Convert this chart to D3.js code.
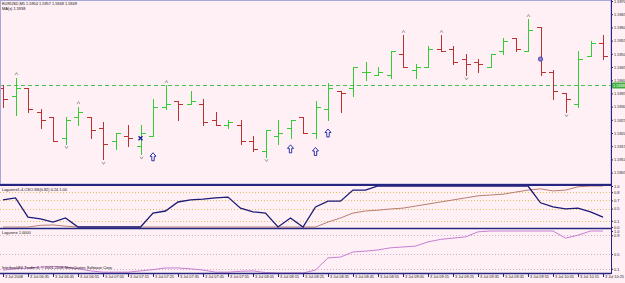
<!DOCTYPE html>
<html>
<head>
<meta charset="utf-8">
<script src="https://cdn.jsdelivr.net/npm/d3@7"></script>
<style>
  body { margin: 0; background: #fff0f5; }
  text { font-family: "Liberation Sans", Arial, sans-serif; }
</style>
</head>
<body>
<svg id="chart" width="625" height="283"></svg>
<script>
// EURUSD M5, 3 Jul 2008
const times = ["06:25","06:30","06:35","06:40","06:45","06:50","06:55","07:00","07:05","07:10",
  "07:15","07:20","07:25","07:30","07:35","07:40","07:45","07:50","07:55","08:00",
  "08:05","08:10","08:15","08:20","08:25","08:30","08:35","08:40","08:45","08:50",
  "08:55","09:00","09:05","09:10","09:15","09:20","09:25","09:30","09:35","09:40",
  "09:45","09:50","09:55","10:00","10:05","10:10","10:15","10:20","10:25"];
const open  = [1.5937,1.5934,1.5937,1.5928,1.5926,1.5918,1.5926,1.5926,1.5922,1.5917,
  1.5919,1.5915,1.5919,1.5930,1.5932,1.5931,1.5931,1.5925,1.5923,1.5923,
  1.5917,1.5913,1.5919,1.5922,1.5926,1.5920,1.5929,1.5936,1.5937,1.5943,
  1.5942,1.5942,1.5950,1.5944,1.5945,1.5952,1.5952,1.5948,1.5947,1.5945,
  1.5951,1.5956,1.5951,1.5960,1.5943,1.5935,1.5931,1.5949,1.5954];
const high  = [1.5938,1.5941,1.5937,1.5929,1.5926,1.5926,1.5930,1.5926,1.5924,1.5920,
  1.5923,1.5923,1.5933,1.5938,1.5932,1.5936,1.5933,1.5928,1.5925,1.5925,
  1.5919,1.5921,1.5925,1.5925,1.5926,1.5932,1.5939,1.5936,1.5945,1.5947,
  1.5945,1.5951,1.5957,1.5946,1.5953,1.5957,1.5953,1.5950,1.5948,1.5950,
  1.5956,1.5956,1.5963,1.5960,1.5944,1.5935,1.5951,1.5955,1.5957];
const low   = [1.5930,1.5927,1.5928,1.5922,1.5917,1.5916,1.5923,1.5918,1.5910,1.5914,
  1.5915,1.5912,1.5919,1.5929,1.5925,1.5931,1.5923,1.5923,1.5922,1.5916,
  1.5913,1.5911,1.5916,1.5918,1.5920,1.5918,1.5925,1.5928,1.5934,1.5940,
  1.5942,1.5941,1.5945,1.5941,1.5945,1.5951,1.5946,1.5942,1.5943,1.5945,
  1.5950,1.5951,1.5951,1.5942,1.5933,1.5928,1.5930,1.5949,1.5948];
const close = [1.5933,1.5937,1.5929,1.5925,1.5917,1.5925,1.5928,1.5921,1.5916,1.5920,
  1.5918,1.5920,1.5930,1.5931,1.5931,1.5932,1.5924,1.5923,1.5924,1.5917,
  1.5914,1.5921,1.5920,1.5925,1.5920,1.5930,1.5937,1.5935,1.5945,1.5943,
  1.5943,1.5951,1.5945,1.5945,1.5952,1.5951,1.5947,1.5946,1.5946,1.5950,
  1.5955,1.5952,1.5959,1.5943,1.5936,1.5933,1.5948,1.5954,1.5949];

const priceTicks = [1.5905,1.5910,1.5915,1.5920,1.5925,1.5930,1.5935,1.5940,
  1.5945,1.5950,1.5955,1.5960,1.5965,1.5970];
const tickLabels = ["3 Jul 2008","3 Jul 06:35","3 Jul 06:45","3 Jul 06:55","3 Jul 07:05",
  "3 Jul 07:15","3 Jul 07:25","3 Jul 07:35","3 Jul 07:45","3 Jul 07:55","3 Jul 08:05",
  "3 Jul 08:15","3 Jul 08:25","3 Jul 08:35","3 Jul 08:45","3 Jul 08:55","3 Jul 09:05",
  "3 Jul 09:15","3 Jul 09:25","3 Jul 09:35","3 Jul 09:45","3 Jul 09:55","3 Jul 10:05",
  "3 Jul 10:15","3 Jul 10:25"];
const hLine = 1.5938;

// markers
const fractalUp = [1,6,13,32,35,42];
const fractalDown = [5,8,11,21,37,45];
const arrowsUp = [[12,1.5911],[23,1.5914],[25,1.5913],[26,1.5920]];
const crosses = [[11,1.5918]];
const circles = [[43,1.5948]];

// indicator 1 (two lines) and indicator 2
const lagFast = [0.66,0.71,0.24,0.20,0.12,0.22,0,0,0,0,
  0,0,0.34,0.39,0.61,0.66,0.68,0.71,0.73,0.46,
  0.37,0.34,0,0.22,0,0.49,0.63,0.63,0.90,0.90,
  1,1,1,1,1,1,1,1,1,1,
  1,1,1,0.59,0.49,0.44,0.46,0.37,0.24];
const lagSlow = [0,0,0,0.04,0.05,0.02,0,0,0,0,
  0,0,0,0,0,0,0,0,0,0,
  0,0,0,0,0,0,0.12,0.22,0.34,0.39,
  0.41,0.44,0.46,0.51,0.56,0.61,0.66,0.71,0.76,0.78,
  0.80,0.85,0.90,0.93,0.88,0.90,0.98,1,1];
const laguerre = [0.07,0.10,0.12,0.14,0.15,0.14,0.10,0.05,0.02,0.02,
  0.02,0.05,0.08,0.12,0.12,0.10,0.07,0.02,0.02,0.04,
  0.05,0.01,0,0,0,0.07,0.36,0.38,0.50,0.52,
  0.55,0.60,0.62,0.64,0.74,0.80,0.83,0.86,0.98,1,
  1,1,1,1,1,0.83,0.90,1,1];
const levels1 = [0.85,0.65,0.45,0.15];
const levels2 = [0.9,0.45,0.1];

const svg = d3.select("#chart");
const W = 625, axisX = 611;
const bull = "#33cc33", bear = "#b83232", fg = "#262680";

svg.append("rect").attr("width", W).attr("height", 283).attr("fill", "#fff0f5");

const x = d3.scalePoint().domain(times).range([3, 603]);
const y = d3.scaleLinear().domain([1.5905, 1.5970]).range([172.6, 1]);
const y1 = d3.scaleLinear().domain([0, 1]).range([227, 186]);
const y2 = d3.scaleLinear().domain([0, 1]).range([273, 231]);

const px = v => Math.round(v) + 0.5;

// clip main area
svg.append("clipPath").attr("id", "main").append("rect")
  .attr("x", 0).attr("y", 0).attr("width", axisX).attr("height", 184);

const main = svg.append("g").attr("clip-path", "url(#main)");

// dashed horizontal line
main.append("line")
  .attr("x1", 0).attr("x2", axisX)
  .attr("y1", px(y(hLine))).attr("y2", px(y(hLine)))
  .attr("stroke", "#4fbf4f").attr("stroke-dasharray", "4,3");

// bars
const bars = main.selectAll("g.bar").data(times).join("g")
  .attr("stroke", (d, i) => close[i] >= open[i] ? bull : bear)
  .attr("stroke-width", 1);
bars.append("line")
  .attr("x1", d => px(x(d))).attr("x2", d => px(x(d)))
  .attr("y1", (d, i) => Math.round(y(high[i]))).attr("y2", (d, i) => Math.round(y(low[i])) + 1);
bars.append("line")
  .attr("x1", d => Math.round(x(d)) - 4).attr("x2", d => Math.round(x(d)))
  .attr("y1", (d, i) => px(y(open[i]))).attr("y2", (d, i) => px(y(open[i])));
bars.append("line")
  .attr("x1", d => Math.round(x(d)) + 1).attr("x2", d => Math.round(x(d)) + 5)
  .attr("y1", (d, i) => px(y(close[i]))).attr("y2", (d, i) => px(y(close[i])));

// fractals
main.selectAll("path.fup").data(fractalUp).join("path")
  .attr("d", i => {
    const cx = Math.round(x(times[i])) + 0.5, cy = y(high[i]) - 4;
    return `M${cx - 1.5},${cy + 1.5}L${cx},${cy - 1}L${cx + 1.5},${cy + 1.5}`;
  })
  .attr("fill", "none").attr("stroke", "#8a8a8a").attr("stroke-width", 0.8);
main.selectAll("path.fdn").data(fractalDown).join("path")
  .attr("d", i => {
    const cx = Math.round(x(times[i])) + 0.5, cy = y(low[i]) + 4;
    return `M${cx - 1.5},${cy - 1.5}L${cx},${cy + 1}L${cx + 1.5},${cy - 1.5}`;
  })
  .attr("fill", "none").attr("stroke", "#8a8a8a").attr("stroke-width", 0.8);

// arrows
main.selectAll("path.arr").data(arrowsUp).join("path")
  .attr("transform", d => `translate(${x(times[d[0]])},${y(d[1])})`)
  .attr("d", "M0,-4L3,-0.5L1.2,-0.5L1.2,4L-1.2,4L-1.2,-0.5L-3,-0.5Z")
  .attr("fill", "#fff").attr("stroke", "#1c1c9c").attr("stroke-width", 0.9);
main.selectAll("path.crs").data(crosses).join("path")
  .attr("transform", d => `translate(${x(times[d[0]])},${y(d[1])})`)
  .attr("d", "M-2,-2L2,2M-2,2L2,-2")
  .attr("stroke", "#1c1c9c").attr("stroke-width", 1.4);
main.selectAll("circle.mk").data(circles).join("circle")
  .attr("cx", d => x(times[d[0]])).attr("cy", d => y(d[1])).attr("r", 2.2)
  .attr("fill", "#8a7fd6").attr("stroke", "#3a3ab0").attr("stroke-width", 0.8);

// headers
const hdr = svg.append("g").attr("font-size", 3.9).attr("fill", "#111");
const n = times.length - 1;
hdr.append("text").attr("x", 2).attr("y", 5)
  .text(`EURUSD,M5  ${open[n].toFixed(4)} ${high[n].toFixed(4)} ${low[n].toFixed(4)} ${close[n].toFixed(4)}`);
hdr.append("text").attr("x", 2).attr("y", 10).text(`MA(x) ${hLine.toFixed(4)}`);

// right price axis
const yAxis = svg.append("g").attr("transform", `translate(${axisX},0)`)
  .call(d3.axisRight(y).tickValues(priceTicks).tickSize(2).tickFormat(d3.format(".4f")));
yAxis.select(".domain").remove();
yAxis.selectAll("line").attr("stroke", fg);
yAxis.selectAll("text").attr("font-size", 3.9).attr("fill", "#222").attr("x", 3)
  .attr("font-family", "Liberation Sans, Arial, sans-serif");

// current line label
svg.append("rect").attr("x", axisX).attr("y", y(hLine) - 3).attr("width", 14).attr("height", 6)
  .attr("fill", "#3fae3f");
svg.append("text").attr("x", axisX + 2).attr("y", y(hLine) + 1.5).attr("font-size", 3.9)
  .attr("fill", "#fff").text(hLine.toFixed(4));

// indicator panel 1
const p1 = svg.append("g");
p1.selectAll("line.lv").data(levels1).join("line")
  .attr("x1", 0).attr("x2", axisX).attr("y1", d => px(y1(d))).attr("y2", d => px(y1(d)))
  .attr("stroke", "#e0c060").attr("stroke-dasharray", "1,2");
const lineGen = (sc, arr) => d3.line().x((d, i) => x(times[i])).y(d => sc(d))(arr);
p1.append("path").attr("d", lineGen(y1, lagSlow)).attr("fill", "none")
  .attr("stroke", "#b07060").attr("stroke-width", 0.9);
p1.append("path").attr("d", lineGen(y1, lagFast)).attr("fill", "none")
  .attr("stroke", "#1a1a78").attr("stroke-width", 1.3);
p1.append("text").attr("x", 2).attr("y", 191).attr("font-size", 3.9).attr("fill", "#111")
  .text(`Laguerre1-4-CSO-SS(0.82)  ${lagFast[n].toFixed(2)} ${lagSlow[n].toFixed(2)}`);
const a1 = svg.append("g").attr("transform", `translate(${axisX},0)`)
  .call(d3.axisRight(y1).tickValues([1].concat(levels1, [0])).tickSize(2));
a1.select(".domain").remove();
a1.selectAll("line").attr("stroke", fg);
a1.selectAll("text").attr("font-size", 3.9).attr("fill", "#222").attr("x", 3);

// indicator panel 2
const p2 = svg.append("g");
p2.selectAll("line.lv").data(levels2).join("line")
  .attr("x1", 0).attr("x2", axisX).attr("y1", d => px(y2(d))).attr("y2", d => px(y2(d)))
  .attr("stroke", "#c8b0c8").attr("stroke-dasharray", "1,2");
p2.append("path").attr("d", lineGen(y2, laguerre)).attr("fill", "none")
  .attr("stroke", "#c070d0").attr("stroke-width", 0.9);
p2.append("text").attr("x", 2).attr("y", 234).attr("font-size", 3.9).attr("fill", "#111")
  .text(`Laguerre ${laguerre[n].toFixed(4)}`);
p2.append("text").attr("x", 2).attr("y", 269).attr("font-size", 3.9).attr("fill", "#111")
  .text("InterbankFX Trader 4, \u00a9 2001-2008 MetaQuotes Software Corp.");
const a2 = svg.append("g").attr("transform", `translate(${axisX},0)`)
  .call(d3.axisRight(y2).tickValues([1].concat(levels2)).tickSize(2));
a2.select(".domain").remove();
a2.selectAll("line").attr("stroke", fg);
a2.selectAll("text").attr("font-size", 3.9).attr("fill", "#222").attr("x", 3);

// frames and separators
const frame = svg.append("g").attr("stroke", fg).attr("fill", "none");
frame.append("rect").attr("x", 0.5).attr("y", 0.5).attr("width", axisX - 0.5).attr("height", 183.5)
  .attr("stroke", "#a8a8d8");
[185, 228.5, 273.5].forEach(v => frame.append("line").attr("x1", 0).attr("x2", axisX)
  .attr("y1", v).attr("y2", v).attr("stroke-width", v === 185 ? 2 : 1.5));
frame.append("line").attr("x1", axisX + 0.5).attr("x2", axisX + 0.5).attr("y1", 0).attr("y2", 274);

// time axis
const tickIdx = times.filter((d, i) => i % 2 === 0);
const xAxis = svg.append("g").attr("transform", "translate(0,274)")
  .call(d3.axisBottom(x).tickValues(tickIdx).tickSize(3)
    .tickFormat((d, i) => tickLabels[i]));
xAxis.select(".domain").remove();
xAxis.selectAll("line").attr("stroke", fg);
xAxis.selectAll("text").attr("font-size", 3.9).attr("fill", "#222")
  .attr("text-anchor", "start").attr("dx", 1.5).attr("dy", 0).attr("y", 3.5);
</script>
</body>
</html>
